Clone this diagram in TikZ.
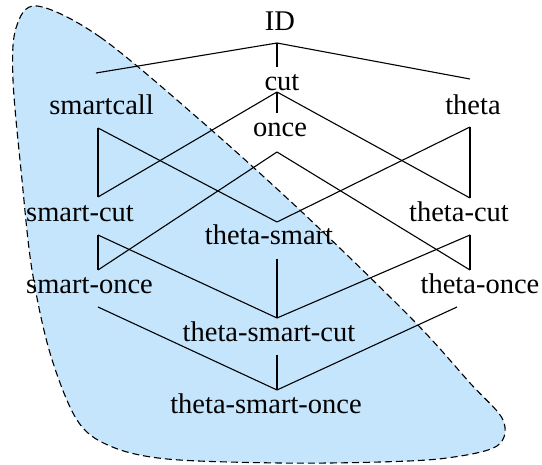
\documentclass[tikz,border=0pt]{standalone}
\usepackage{fontspec}
\setmainfont{Liberation Serif}
\definecolor{regionblue}{RGB}{196,229,252}
\begin{document}
\begin{tikzpicture}[x=1pt,y=-1pt,
  lbl/.style={anchor=base,inner sep=0pt,font=\fontsize{28.5}{30}\selectfont},
  edge/.style={draw=black,line width=1.1pt},
  region/.style={fill=regionblue,draw=black,line width=1.1pt,dash pattern=on 7pt off 4pt}]
\useasboundingbox (0,0) rectangle (542,465);
% shaded region
\path[region] plot[smooth cycle,tension=0.55] coordinates {
  (37,6) (100,37) (200,120) (303,213) (413,320) (470,383) (503,420)
  (497,446) (447,458) (380,462) (280,463) (167,459) (110,446) (77,420)
  (50,353) (32,270) (22,180) (13,80) (16,28)};
% labels
\node[lbl] (id) at (280,31) {ID};
\node[lbl] (cut) at (282,91) {cut};
\node[lbl] (smartcall) at (101.5,115) {smartcall};
\node[lbl] (theta) at (473,115) {theta};
\node[lbl] (once) at (280,137) {once};
\node[lbl] (smartcut) at (80,222) {smart-cut};
\node[lbl] (thetasmart) at (269,245) {theta-smart};
\node[lbl] (thetacut) at (459,222) {theta-cut};
\node[lbl] (smartonce) at (89.5,294) {smart-once};
\node[lbl] (thetaonce) at (480,294) {theta-once};
\node[lbl] (tsc) at (269,342) {theta-smart-cut};
\node[lbl] (tso) at (266,414) {theta-smart-once};
% connector ports
\coordinate (idB) at (277,43);
\coordinate (scT) at (96,73);   \coordinate (scB) at (98,128);
\coordinate (cutT) at (277,67); \coordinate (cutB) at (277,92);
\coordinate (thT) at (470,79);  \coordinate (thB) at (470,127);
\coordinate (onT) at (277,113); \coordinate (onB) at (277,152);
\coordinate (smcT) at (98,197); \coordinate (smcB) at (98,235);
\coordinate (tsT) at (277,222); \coordinate (tsB) at (277,259);
\coordinate (tcT) at (470,198); \coordinate (tcB) at (470,235);
\coordinate (soT) at (98,270);  \coordinate (soB) at (98,307);
\coordinate (toT) at (470,270); \coordinate (toB) at (457,307);
\coordinate (tscT) at (277,318); \coordinate (tscB) at (277,355);
\coordinate (tsoT) at (277,390);
% connectors
\draw[edge] (idB) -- (scT);
\draw[edge] (idB) -- (cutT);
\draw[edge] (idB) -- (thT);
\draw[edge] (cutB) -- (onT);
\draw[edge] (cutB) -- (smcT);
\draw[edge] (cutB) -- (tcT);
\draw[edge] (scB) -- (smcT);
\draw[edge] (scB) -- (tsT);
\draw[edge] (thB) -- (tcT);
\draw[edge] (thB) -- (tsT);
\draw[edge] (onB) -- (soT);
\draw[edge] (onB) -- (toT);
\draw[edge] (smcB) -- (soT);
\draw[edge] (smcB) -- (tscT);
\draw[edge] (tcB) -- (toT);
\draw[edge] (tcB) -- (tscT);
\draw[edge] (tsB) -- (tscT);
\draw[edge] (soB) -- (tsoT);
\draw[edge] (toB) -- (tsoT);
\draw[edge] (tscB) -- (tsoT);
\end{tikzpicture}
\end{document}
